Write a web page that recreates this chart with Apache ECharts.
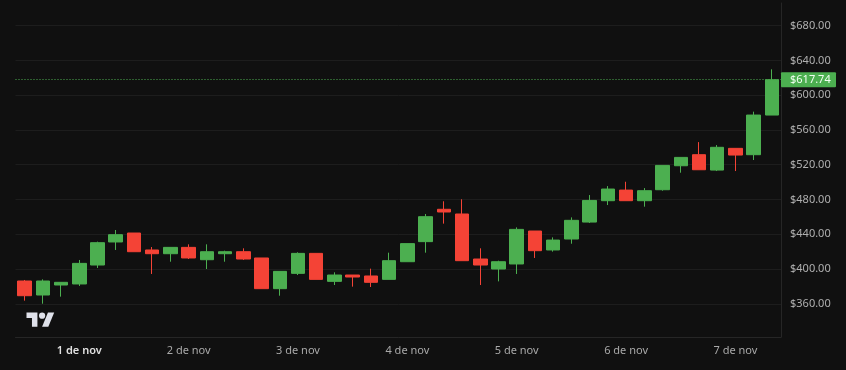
<!DOCTYPE html>
<html><head><meta charset="utf-8">
<style>html,body{margin:0;padding:0;background:#101010}#c{width:846px;height:370px}</style>
<script src="https://cdn.jsdelivr.net/npm/echarts@6/dist/echarts.min.js"></script>
</head><body><div id="c"></div>
<script>
const dayLabels=['1 de nov','2 de nov','3 de nov','4 de nov','5 de nov','6 de nov','7 de nov'];
const opens=[386.2,370.1,381.6,382.8,404.6,431.1,441.4,421.9,417.6,424.9,410.7,417.6,419.9,412.7,377.4,395,418,385.8,393.1,392,388.1,408.4,431.5,468.7,463.3,411.5,400,405.8,443.7,421.9,434.5,454,478.6,490.8,478.6,491.2,518.8,531.5,513.8,538.8,531.5,577.1];
const closes=[369.3,386.2,384.7,406.5,430.3,439.5,419.9,417.6,424.9,412.7,419.9,419.9,411.5,377.4,397.3,418,388.1,393.1,390.8,384.7,409.6,429.2,460.2,465.6,409.6,404.6,408.4,445.6,421.1,433.3,456,478.9,492,478.6,490.1,519.2,528.4,514.2,540,531.1,577.1,617.74];
const lows=[363.6,360.1,368.2,380.5,401.2,421.9,419.9,394.3,408.4,411.5,400,408.4,410.4,377.4,369.3,393.1,388.1,381.6,379.7,379.3,388.1,408.4,418.8,452.2,409.6,381.6,385.8,394.3,412.7,420,429.1,452.9,473.6,478.6,471.7,490.1,510.8,514.2,512.7,512.7,525.4,577.1];
const highs=[387.4,388.1,384.7,410.4,431.5,444.9,441.4,425.3,424.9,428.4,428.4,421.1,423.8,412.7,397.3,419.2,418,396.2,393.1,400.4,418.8,429.2,463.3,477.9,480.2,423.8,409.6,447.9,443.7,436.4,459.4,485.1,495.4,500.4,493.1,519.2,528.4,546,542.6,538.8,581,629.7];
const priceTicks=[360,400,440,480,520,560,600,640,680];
const lastPrice=617.74;

const categories=opens.map((_,i)=>(i-3)%6===0?dayLabels[(i-3)/6]:'c'+i);
const candles=opens.map((o,i)=>[o,closes[i],lows[i],highs[i]]);
const UP='#4caf50',DOWN='#f44336',FONT='"Noto Sans",sans-serif',LOGO='#dfe1ea';

const chart=echarts.init(document.getElementById('c'),null,{renderer:'canvas'});
chart.setOption({
  animation:false,
  backgroundColor:'#101010',
  textStyle:{fontFamily:FONT},
  grid:{left:15.5,right:65,top:3,bottom:33},
  xAxis:{
    type:'category',data:categories,boundaryGap:true,
    axisLine:{show:true,lineStyle:{color:'#262626',width:1}},
    axisTick:{show:false},splitLine:{show:false},
    axisLabel:{
      interval:(i)=>(i-3)%6===0,margin:8,fontSize:11,color:'#a9a9a9',fontFamily:FONT,
      formatter:(v)=>v===dayLabels[0]?'{b|'+v+'}':v,
      rich:{b:{fontWeight:600,color:'#e0e0e0',fontSize:11,fontFamily:FONT}}
    }
  },
  yAxis:{
    type:'value',position:'right',min:321.8,max:706,scale:true,
    axisLine:{show:true,lineStyle:{color:'#262626',width:1}},
    axisTick:{show:false,customValues:priceTicks},
    splitLine:{show:true,lineStyle:{color:'#1d1d1d',width:1}},
    axisLabel:{customValues:priceTicks,margin:9,fontSize:11,color:'#b0b0b0',fontFamily:FONT,
      formatter:(v)=>'$'+v.toFixed(2)}
  },
  graphic:[{
    type:'group',x:26.5,y:309.5,scaleX:.78,scaleY:.78,z:10,silent:true,
    children:[
      {type:'polygon',shape:{points:[[0,4],[14,4],[14,22],[7,22],[7,11],[0,11]]},style:{fill:LOGO}},
      {type:'polygon',shape:{points:[[28,22],[20,22],[27.5,4],[35.5,4]]},style:{fill:LOGO}},
      {type:'circle',shape:{cx:20,cy:8,r:4},style:{fill:LOGO}}
    ]
  }],
  series:[{
    type:'candlestick',data:candles,barWidth:14,
    itemStyle:{color:UP,color0:DOWN,borderColor:UP,borderColor0:DOWN,borderWidth:1},
    markLine:{
      silent:true,symbol:'none',animation:false,
      lineStyle:{type:[1,2],color:UP,width:1,opacity:1},
      label:{show:true,position:'end',distance:0,formatter:()=>'$'+lastPrice.toFixed(2),
        backgroundColor:UP,color:'#f2fff2',fontSize:11,fontFamily:FONT,
        padding:[1,6,1,9],width:40,height:13,lineHeight:13,borderRadius:1},
      data:[{yAxis:lastPrice}]
    }
  }]
});
</script></body></html>
